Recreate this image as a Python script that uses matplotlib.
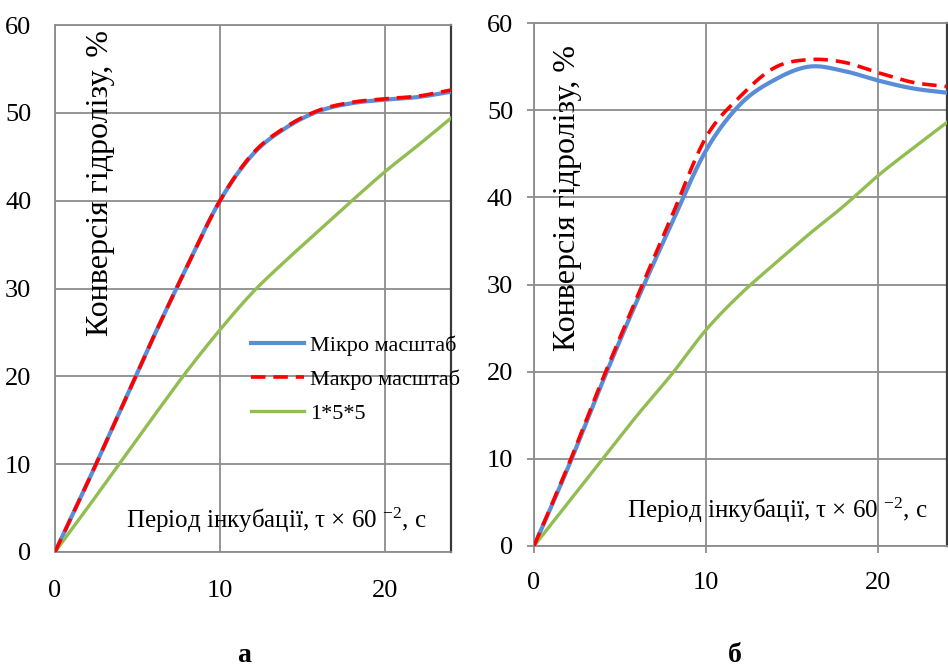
import numpy as np
import matplotlib
matplotlib.use("Agg")
import matplotlib.pyplot as plt

plt.rcParams['font.family'] = ['Liberation Serif', 'DejaVu Serif']
plt.rcParams['mathtext.fontset'] = 'custom'
plt.rcParams['mathtext.rm'] = 'Liberation Serif'
plt.rcParams['mathtext.it'] = 'Liberation Serif:italic'

# ---------------- data ----------------
t = [0, 2, 4, 6, 8, 10, 12, 14, 16, 18, 20, 22, 24]

a_micro = [0, 8.0, 16.3, 24.6, 32.5, 40.0, 45.3, 48.3, 50.2, 51.1, 51.5, 51.8, 52.4]
a_macro = [0, 8.0, 16.3, 24.6, 32.5, 40.0, 45.4, 48.4, 50.3, 51.2, 51.6, 51.9, 52.6]
a_155 = [0, 5.1, 10.3, 15.5, 20.6, 25.3, 29.6, 33.2, 36.6, 40.0, 43.3, 46.3, 49.4]

b_micro = [0, 9.1, 18.9, 28.2, 37.0, 45.4, 50.7, 53.5, 55.0, 54.5, 53.4, 52.5, 52.0]
b_macro = [0, 9.3, 19.2, 28.6, 37.8, 46.9, 51.6, 54.9, 55.8, 55.5, 54.3, 53.2, 52.7]
b_155 = [0, 5.0, 10.0, 15.0, 19.7, 24.8, 28.9, 32.4, 35.8, 39.0, 42.5, 45.6, 48.6]

series_labels = ['Мікро масштаб', 'Макро масштаб', '1*5*5']
x_ticks = [0, 10, 20]
y_ticks = [0, 10, 20, 30, 40, 50, 60]
y_label = 'Конверсія гідролізу, %'
x_label = r'Період інкубації, τ × 60 $^{-2}$, с'
panel_labels = ['а', 'б']

BLUE = '#5A8DD8'
RED = '#FF0000'
GREEN = '#92BD52'
GRID = '#8C8C8C'


def smooth(x, y, n=16):
    P = np.column_stack([np.asarray(x, float), np.asarray(y, float)])
    E = np.vstack([2 * P[0] - P[1], P, 2 * P[-1] - P[-2]])
    out = []
    s = np.linspace(0, 1, n, endpoint=False)[:, None]
    for i in range(len(P) - 1):
        p0, p1, p2, p3 = E[i:i + 4]
        pts = 0.5 * (2 * p1 + (-p0 + p2) * s + (2 * p0 - 5 * p1 + 4 * p2 - p3) * s ** 2
                     + (-p0 + 3 * p1 - 3 * p2 + p3) * s ** 3)
        out.append(pts)
    out.append(P[-1:])
    Q = np.vstack(out)
    return Q[:, 0], Q[:, 1]


fig = plt.figure(figsize=(9.48, 6.72), dpi=100)
W, H = 948, 672


def make_ax(l, r, t_, b_):
    return fig.add_axes([l / W, 1 - b_ / H, (r - l) / W, (b_ - t_) / H])


axA = make_ax(55, 451, 25, 552)
axB = make_ax(534, 947, 23, 546)

for ax, micro, macro, g, ticks in [(axA, a_micro, a_macro, a_155, False),
                                     (axB, b_micro, b_macro, b_155, True)]:
    x1, y1 = smooth(t, micro)
    x2, y2 = smooth(t, macro)
    x3, y3 = smooth(t, g)
    ax.plot(x1, y1, color=BLUE, lw=3.0, label=series_labels[0], zorder=3)
    ax.plot(x2, y2, color=RED, lw=2.6, ls=(0, (4, 2.2)), label=series_labels[1], zorder=4)
    ax.plot(x3, y3, color=GREEN, lw=2.4, label=series_labels[2], zorder=3)
    ax.set_xlim(0, 24)
    ax.set_ylim(0, 60)
    ax.set_xticks(x_ticks)
    ax.set_yticks(y_ticks)
    ax.grid(True, color=GRID, lw=1.3)
    ax.set_axisbelow(True)
    for s in ['left', 'bottom', 'top']:
        ax.spines[s].set_color(GRID)
        ax.spines[s].set_linewidth(1.3)
    ax.spines['right'].set_color('#3a3a3a')
    ax.spines['right'].set_linewidth(1.6)
    if ticks:
        ax.tick_params(axis='both', length=5, width=1.3, color=GRID, labelsize=19)
        ax.tick_params(axis='y', pad=10)
        ax.tick_params(axis='x', pad=14)
    else:
        ax.tick_params(axis='both', length=0, labelsize=19)
        ax.tick_params(axis='y', pad=17)
        ax.tick_params(axis='x', pad=20)

axA.text(0.114, 0.99, y_label, transform=axA.transAxes, rotation=90,
         ha='center', va='top', fontsize=23)
axB.text(0.08, 0.958, y_label, transform=axB.transAxes, rotation=90,
         ha='center', va='top', fontsize=23)
axA.text(0.559, 0.061, x_label, transform=axA.transAxes, ha='center', va='center', fontsize=18)
axB.text(0.59, 0.069, x_label, transform=axB.transAxes, ha='center', va='center', fontsize=18)

axA.legend(loc='upper left', bbox_to_anchor=(0.495, 0.411), frameon=False, fontsize=16,
           handlelength=2.4, handletextpad=0.25, labelspacing=0.6, borderpad=0,
           borderaxespad=0)

fig.text(244 / W, 1 - 656 / H, panel_labels[0], ha='center', va='center', fontsize=20,
         fontweight='bold')
fig.text(735 / W, 1 - 656 / H, panel_labels[1], ha='center', va='center', fontsize=20,
         fontweight='bold')

fig.savefig('out.png', dpi=100)
